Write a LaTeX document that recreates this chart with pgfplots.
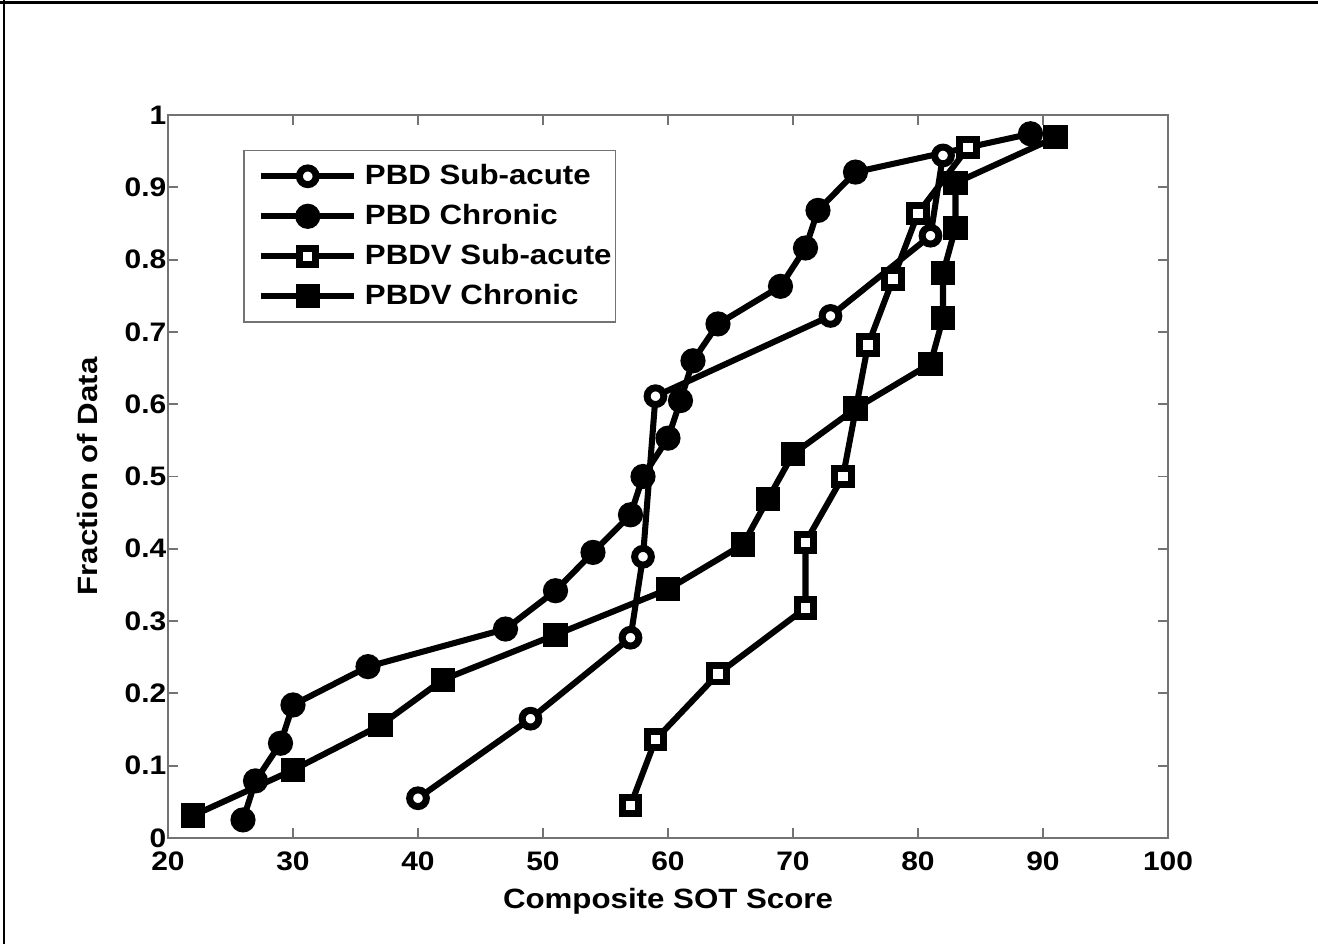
\documentclass[border=0pt]{standalone}
\usepackage{fontspec}
\setmainfont{Liberation Sans}[FakeStretch=1.12]
\usepackage{pgfplots}
\pgfplotsset{compat=1.18}

\begin{document}
\begin{tikzpicture}
% page size: 1318 x 944 px at 0.43pt per px, axis box south west at origin
\path[use as bounding box] (-72.24pt,-45.58pt) rectangle (494.5pt,360.34pt);

\begin{axis}[
  at={(0,0)}, anchor=south west,
  scale only axis,
  width=430pt, height=310.9pt,
  xmin=20, xmax=100, ymin=0, ymax=1,
  xtick={20,30,...,100},
  ytick={0,0.1,...,1},
  yticklabels={0,0.1,0.2,0.3,0.4,0.5,0.6,0.7,0.8,0.9,1},
  tick align=inside,
  major tick length=4.3pt,
  axis line style={black!55, line width=0.9pt},
  every tick/.style={black!55, line width=0.8pt},
  /pgf/number format/assume math mode=true,
  ticklabel style={font=\fontsize{11.5}{13}\selectfont\bfseries},
  xticklabel style={yshift=-2.5pt},
  yticklabel style={xshift=2.8pt},
  label style={font=\fontsize{12}{14}\selectfont\bfseries},
  xlabel={Composite SOT Score},
  ylabel={Fraction of Data},
  x label style={at={(axis description cs:0.5,-0.087)}, anchor=center},
  y label style={at={(axis description cs:-0.08,0.5)}, anchor=center},
  legend image code/.code={
    \path (0pt,0pt);
    \draw[mark repeat=2,mark phase=2,#1] plot coordinates {(4.5pt,0pt) (24.5pt,0pt) (44.5pt,0pt)};
  },
  legend style={
    at={(0.075,0.952)}, anchor=north west,
    draw=black!55, line width=0.7pt,
    inner xsep=1.7pt, inner ysep=2.5pt,
    column sep=3.3pt,
    font=\fontsize{12}{14}\selectfont\bfseries,
    nodes={inner sep=0pt, text height=12.3pt, text depth=4.9pt},
  },
  legend cell align=left,
  every axis plot/.append style={line width=2.6pt, black},
]

% PBD Sub-acute
\addplot[mark=*, mark size=3.6pt, mark options={fill=white, draw=black, line width=3pt}]
coordinates {
  (40,0.055) (49,0.165) (57,0.277) (58,0.389) (59,0.611)
  (73,0.722) (81,0.833) (82,0.944)
};

% PBD Chronic
\addplot[mark=*, mark size=4.2pt, mark options={fill=black, draw=black, line width=2.4pt}]
coordinates {
  (26,0.025) (27,0.079) (29,0.131) (30,0.184) (36,0.237)
  (47,0.289) (51,0.342) (54,0.395) (57,0.447) (58,0.5)
  (60,0.553) (61,0.605) (62,0.660) (64,0.711) (69,0.763)
  (71,0.816) (72,0.868) (75,0.921) (89,0.974)
};

% PBDV Sub-acute
\addplot[mark=square*, mark size=3.5pt, mark options={fill=white, draw=black, line width=3pt}]
coordinates {
  (57,0.045) (59,0.136) (64,0.227) (71,0.318) (71,0.409)
  (74,0.5) (76,0.682) (78,0.773) (80,0.864) (84,0.955)
};

% PBDV Chronic
\addplot[mark=square*, mark size=4pt, mark options={fill=black, draw=black, line width=2.4pt}]
coordinates {
  (22,0.031) (30,0.094) (37,0.156) (42,0.219) (51,0.281)
  (60,0.344) (66,0.406) (68,0.469) (70,0.531) (75,0.594)
  (81,0.656) (82,0.719) (82,0.781) (83,0.844) (83,0.906)
  (91,0.969)
};

\legend{PBD Sub-acute, PBD Chronic, PBDV Sub-acute, PBDV Chronic}
\end{axis}

% figure frame (top and left edges only, as in the export)
\draw[line width=1.3pt] (-72.24pt,359.3pt) -- (494.5pt,359.3pt);
\draw[line width=0.9pt] (-70.5pt,-45.58pt) -- (-70.5pt,360.34pt);
\end{tikzpicture}
\end{document}
